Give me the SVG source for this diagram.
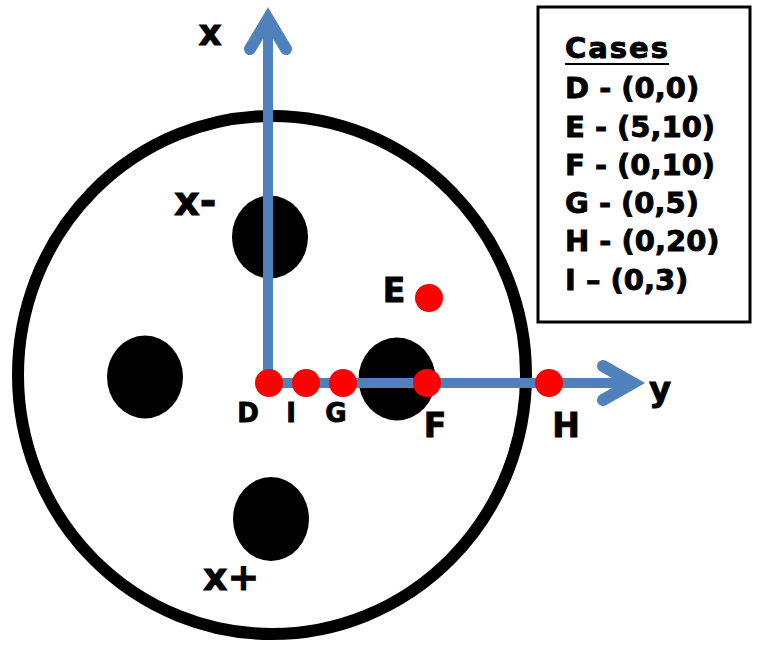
<svg xmlns="http://www.w3.org/2000/svg" width="757" height="647" viewBox="0 0 757 647">
<style>
.lbl{font-family:"DejaVu Sans","Liberation Sans",sans-serif;font-weight:bold;fill:#000;stroke:#000;stroke-width:0.9}
.ax{stroke:#4F81BD;fill:none;stroke-linecap:round}
.hole{fill:#000}
.pt{fill:#FF0000}
</style>
<rect width="757" height="647" fill="#fff"/>
<g id="disk">
<ellipse cx="272" cy="375" rx="254" ry="259" fill="none" stroke="#000" stroke-width="12"/>
</g>
<g id="holes">
<ellipse id="hole-top" class="hole" cx="270" cy="237" rx="38" ry="41.5"/>
<ellipse id="hole-left" class="hole" cx="145" cy="377" rx="38" ry="41.5"/>
<ellipse id="hole-right" class="hole" cx="397" cy="379" rx="38.5" ry="41.5"/>
<ellipse id="hole-bottom" class="hole" cx="271" cy="519" rx="38" ry="42"/>
</g>
<g id="connectors">
<line class="ax" x1="268" y1="383" x2="268" y2="20" stroke-width="10" stroke-linecap="butt"/>
<polyline class="ax" points="250,49 268,19 286,49" stroke-width="12" stroke-linejoin="miter"/>
<line class="ax" x1="268" y1="383" x2="632" y2="383" stroke-width="10" stroke-linecap="butt"/>
<polyline class="ax" points="603,366 633,383 603,400" stroke-width="12" stroke-linejoin="miter"/>
</g>
<g id="axis-labels">
<text class="lbl" x="210" y="45" font-size="36" text-anchor="middle">x</text>
<text class="lbl" x="660" y="401" font-size="34" text-anchor="middle">y</text>
<text class="lbl" x="174" y="215" font-size="40">x-</text>
<text class="lbl" x="203" y="590" font-size="38">x+</text>
</g>
<g id="D"><circle class="pt" cx="269" cy="383" r="14"/><text class="lbl" x="248" y="422" font-size="26" text-anchor="middle">D</text></g>
<g id="I"><circle class="pt" cx="306" cy="383" r="14"/><text class="lbl" x="291" y="422" font-size="26" text-anchor="middle">I</text></g>
<g id="G"><circle class="pt" cx="343" cy="383" r="14"/><text class="lbl" x="336" y="422" font-size="26" text-anchor="middle">G</text></g>
<g id="F"><circle class="pt" cx="427" cy="383" r="14"/><text class="lbl" x="435" y="437" font-size="33" text-anchor="middle">F</text></g>
<g id="H"><circle class="pt" cx="549" cy="383" r="14"/><text class="lbl" x="566" y="437" font-size="33" text-anchor="middle">H</text></g>
<g id="E"><circle class="pt" cx="429" cy="298" r="14"/><text class="lbl" x="394" y="302" font-size="33" text-anchor="middle">E</text></g>
<g id="legend">
<rect x="538" y="7" width="212" height="315" fill="#fff" stroke="#000" stroke-width="3"/>
<text class="lbl" x="565" y="58" font-size="29" textLength="103">Cases</text>
<line x1="565" y1="64" x2="669" y2="64" stroke="#000" stroke-width="2"/>
<text class="lbl" x="565" y="98" font-size="29">D - (0,0)</text>
<text class="lbl" x="565" y="137" font-size="29">E - (5,10)</text>
<text class="lbl" x="565" y="175" font-size="29">F - (0,10)</text>
<text class="lbl" x="565" y="213" font-size="29">G - (0,5)</text>
<text class="lbl" x="565" y="251" font-size="29">H - (0,20)</text>
<text class="lbl" x="565" y="290" font-size="29">I – (0,3)</text>
</g>
</svg>
